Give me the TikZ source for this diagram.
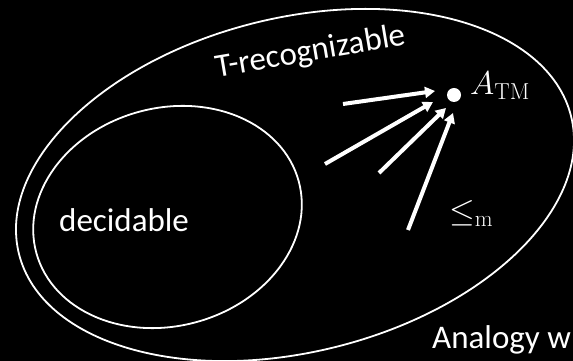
\RequirePackage{fix-cm}
\documentclass[tikz,border=0pt]{standalone}
\usepackage{fontspec}
\usetikzlibrary{arrows.meta}
\newfontfamily\carlito{Carlito}
\tikzset{
  setline/.style={draw=white, line width=1.8pt},
  lbl/.style={text=white, font=\carlito\fontsize{33}{40}\selectfont, inner sep=0pt},
  mlbl/.style={text=white, font=\fontsize{33}{40}\selectfont, inner sep=0pt},
  redarrow/.style={draw=white, line width=4pt, -{Triangle[length=10pt,width=11pt]}},
}
\begin{document}
\begin{tikzpicture}[x=1pt,y=1pt]
\fill[black] (0,0) rectangle (573,361);
\useasboundingbox (0,0) rectangle (573,361);
% sets
\draw[setline, shift={(295,176)}, rotate=14] (0,0) ellipse [x radius=284.5pt, y radius=167pt];
\draw[setline, shift={(167.5,144)}, rotate=15.3] (0,0) ellipse [x radius=136pt, y radius=109pt];
% labels
\node[lbl, anchor=base west] (dec) at (59,129) {decidable};
\node[lbl, anchor=base, rotate=9.6] (trec) at (312,300) {T-recognizable};
\node[lbl, anchor=base west] (anal) at (432,12) {Analogy w};
% A_TM
\fill[white] (454,266) circle (7pt);
\node[circle, inner sep=0pt, minimum size=14pt] (dot) at (454,266) {};
\node[mlbl, anchor=base west] (atm) at (470,266) {$A_{\mathrm{TM}}$};
\node[mlbl, anchor=base west] (leqm) at (449,139) {$\leq_{\mathrm{m}}$};
% arrows
\coordinate (s1) at (343,257); \coordinate (t1) at (435,270);
\coordinate (s2) at (325,197); \coordinate (t2) at (433,259);
\coordinate (s3) at (379,188); \coordinate (t3) at (446,253);
\coordinate (s4) at (408,131); \coordinate (t4) at (453,248);
\draw[redarrow] (s1) -- (t1);
\draw[redarrow] (s2) -- (t2);
\draw[redarrow] (s3) -- (t3);
\draw[redarrow] (s4) -- (t4);
\end{tikzpicture}
\end{document}
